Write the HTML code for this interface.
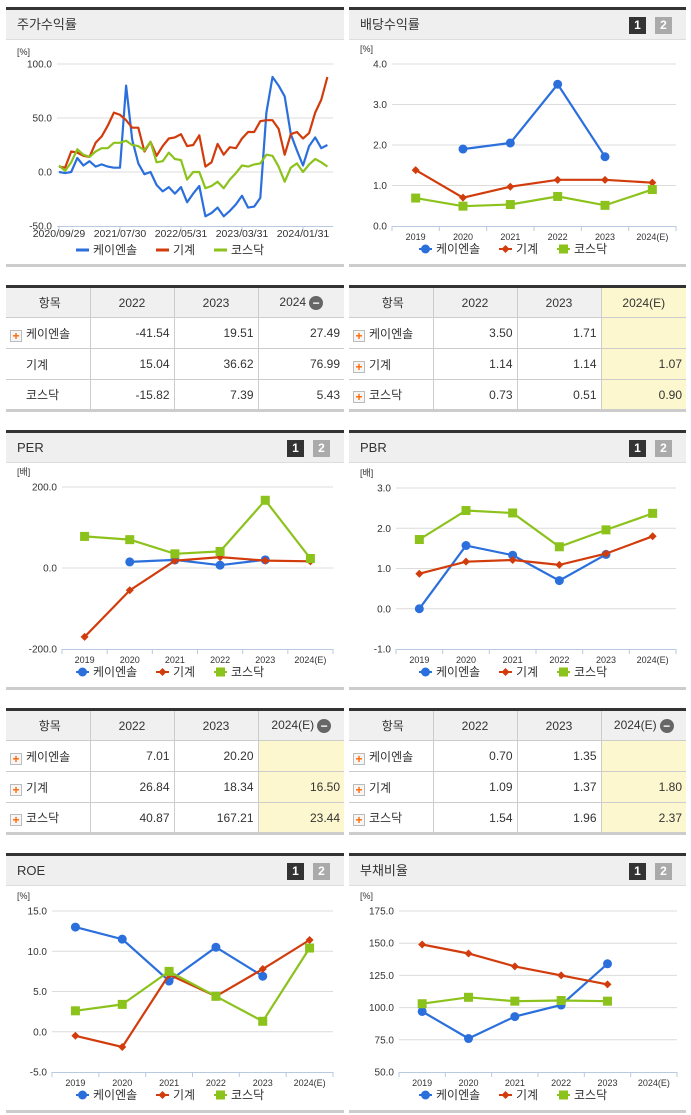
<!DOCTYPE html>
<html><head><meta charset="utf-8">
<style>
*{box-sizing:border-box;margin:0;padding:0}
body{width:691px;height:1115px;background:#fff;position:relative;overflow:hidden;font-family:"Liberation Sans","Noto Sans CJK KR",sans-serif;color:#333}
.panel{position:absolute;border-top:3px solid #333;border-bottom:3px solid #ccc}
.hdr{height:30px;background:#efefef;border-bottom:1px solid #ddd;font-size:13px;line-height:30px;padding-left:11px;color:#333;position:relative}
.b{position:absolute;top:7px;width:17px;height:17px;font-size:12px;font-weight:bold;line-height:17px;text-align:center;color:#fff}
.b1{right:40px;background:#333}.b2{right:14px;background:#aaa}
table{position:absolute;border-collapse:collapse;border-top:3px solid #333;border-bottom:3px solid #ccc;font-size:12px;table-layout:fixed}
th{background:#f0f0f0;font-weight:normal;height:31px;border:1px solid #ccc;border-top:none;text-align:center;vertical-align:middle}
td{height:31px;border:1px solid #ccc;text-align:right;padding-right:4px}
th:first-child,td:first-child{border-left:none;text-align:left;padding-left:4px}
th:first-child{text-align:center}
th:last-child,td:last-child{border-right:none}
.y{background:#fdf7cf}
.pl{display:inline-block;width:12px;height:12px;border:1px solid #bbb;background:#f6f6f6;color:#f60;font-size:12px;line-height:10px;text-align:center;font-weight:bold;vertical-align:-2px;margin-right:4px}
.mi{display:inline-block;width:14px;height:14px;border-radius:7px;background:#666;color:#fff;line-height:14px;font-size:12px;font-weight:bold;vertical-align:middle;margin-left:3px;text-align:center}
svg{position:absolute;left:0;top:0}
</style></head><body>

<div class="panel" style="left:6px;top:7px;width:338px;height:260px"><div class="hdr">주가수익률</div></div>
<div class="panel" style="left:349px;top:7px;width:337px;height:260px"><div class="hdr">배당수익률<span class="b b1">1</span><span class="b b2">2</span></div></div>
<div class="panel" style="left:6px;top:430px;width:338px;height:260px"><div class="hdr">PER<span class="b b1">1</span><span class="b b2">2</span></div></div>
<div class="panel" style="left:349px;top:430px;width:337px;height:260px"><div class="hdr">PBR<span class="b b1">1</span><span class="b b2">2</span></div></div>
<div class="panel" style="left:6px;top:853px;width:338px;height:260px"><div class="hdr">ROE<span class="b b1">1</span><span class="b b2">2</span></div></div>
<div class="panel" style="left:349px;top:853px;width:337px;height:260px"><div class="hdr">부채비율<span class="b b1">1</span><span class="b b2">2</span></div></div>

<table style="left:6px;top:285px;width:338px">
<colgroup><col style="width:84px"><col style="width:84px"><col style="width:84px"><col></colgroup>
<tr><th>항목</th><th>2022</th><th>2023</th><th>2024<span class="mi">−</span></th></tr>
<tr><td><span class="pl">+</span>케이엔솔</td><td>-41.54</td><td>19.51</td><td>27.49</td></tr>
<tr><td style="padding-left:20px">기계</td><td>15.04</td><td>36.62</td><td>76.99</td></tr>
<tr><td style="padding-left:20px">코스닥</td><td>-15.82</td><td>7.39</td><td>5.43</td></tr>
</table>
<table style="left:349px;top:285px;width:337px">
<colgroup><col style="width:84px"><col style="width:84px"><col style="width:84px"><col></colgroup>
<tr><th>항목</th><th>2022</th><th>2023</th><th class="y">2024(E)</th></tr>
<tr><td><span class="pl">+</span>케이엔솔</td><td>3.50</td><td>1.71</td><td class="y"></td></tr>
<tr><td><span class="pl">+</span>기계</td><td>1.14</td><td>1.14</td><td class="y">1.07</td></tr>
<tr><td><span class="pl">+</span>코스닥</td><td>0.73</td><td>0.51</td><td class="y">0.90</td></tr>
</table>
<table style="left:6px;top:708px;width:338px">
<colgroup><col style="width:84px"><col style="width:84px"><col style="width:84px"><col></colgroup>
<tr><th>항목</th><th>2022</th><th>2023</th><th>2024(E)<span class="mi">−</span></th></tr>
<tr><td><span class="pl">+</span>케이엔솔</td><td>7.01</td><td>20.20</td><td class="y"></td></tr>
<tr><td><span class="pl">+</span>기계</td><td>26.84</td><td>18.34</td><td class="y">16.50</td></tr>
<tr><td><span class="pl">+</span>코스닥</td><td>40.87</td><td>167.21</td><td class="y">23.44</td></tr>
</table>
<table style="left:349px;top:708px;width:337px">
<colgroup><col style="width:84px"><col style="width:84px"><col style="width:84px"><col></colgroup>
<tr><th>항목</th><th>2022</th><th>2023</th><th>2024(E)<span class="mi">−</span></th></tr>
<tr><td><span class="pl">+</span>케이엔솔</td><td>0.70</td><td>1.35</td><td class="y"></td></tr>
<tr><td><span class="pl">+</span>기계</td><td>1.09</td><td>1.37</td><td class="y">1.80</td></tr>
<tr><td><span class="pl">+</span>코스닥</td><td>1.54</td><td>1.96</td><td class="y">2.37</td></tr>
</table>

<svg id="chart" width="691" height="1115" font-family="Liberation Sans, Noto Sans CJK KR, sans-serif"></svg>

<script>
// stock return chart data
const stockTickLabels = ["2020/09/29","2021/07/30","2022/05/31","2023/03/31","2024/01/31"];
const stockBlue = [0,-1,0,13,6,10,5,7,5,4,4,80,30,8,-2,0,-12,-18,-14,-20,-14,-28,-20,-13,-41,-38,-33,-41,-36,-30,-22,-33,-32,-24,55,88,80,70,35,20,6,24,32,22,25];
const stockRed = [5,4,19,18,15,14,27,33,43,55,53,48,41,41,19,28,15,24,31,32,35,24,25,34,5,9,26,16,23,22,31,37,37,47,48,48,40,16,35,37,31,36,55,67,88];
const stockGreen = [6,1,9,21,16,14,19,22,22,27,27,29,25,24,20,28,9,10,18,12,11,-7,0,0,-15,-13,-9,-15,-7,-1,6,5,7,8,16,15,5,-9,4,8,0,7,12,9,5];
const stockTicks = [100,50,0,-50];

// category charts
const years = ["2019","2020","2021","2022","2023","2024(E)"];
const divBlue = [null,1.9,2.05,3.5,1.71,null];
const divRed = [1.38,0.7,0.97,1.14,1.14,1.07];
const divGreen = [0.69,0.49,0.53,0.73,0.51,0.90];
const divTicks = [4,3,2,1,0];
const perBlue = [null,15,20,7.01,20.2,null];
const perRed = [-170,-55,18,26.84,18.34,16.5];
const perGreen = [78,70,35,40.87,167.21,23.44];
const perTicks = [200,0,-200];
const pbrBlue = [0,1.57,1.33,0.70,1.35,null];
const pbrRed = [0.87,1.17,1.21,1.09,1.37,1.80];
const pbrGreen = [1.72,2.44,2.38,1.54,1.96,2.37];
const pbrTicks = [3,2,1,0,-1];
const roeBlue = [13,11.5,6.3,10.5,6.9,null];
const roeRed = [-0.5,-1.9,7.1,4.4,7.8,11.4];
const roeGreen = [2.6,3.4,7.5,4.4,1.3,10.4];
const roeTicks = [15,10,5,0,-5];
const debtBlue = [97,76,93,102,134,null];
const debtRed = [149,142,132,125,118,null];
const debtGreen = [103,108,105,105.5,105,null];
const debtTicks = [175,150,125,100,75,50];
const seriesNames = ["케이엔솔","기계","코스닥"];

const BLUE="#2b6fdc",RED="#d23c0c",GREEN="#8cc21c";
const svg=document.getElementById('chart');
const NS="http://www.w3.org/2000/svg";
function mk(tag,attrs,parent){const e=document.createElementNS(NS,tag);for(const k in attrs)e.setAttribute(k,attrs[k]);(parent||svg).appendChild(e);return e;}
function txt(s,x,y,size,anchor,parent,fill){const t=mk('text',{x:x,y:y,'font-size':size,'text-anchor':anchor,fill:fill||'#333'},parent);t.textContent=s;return t;}

function axes(g,L,R,T,B,ticks,fmt,unitX,unitY,unit){
  const ys=v=>T+(ticks[0]-v)/(ticks[0]-ticks[ticks.length-1])*(B-T);
  ticks.forEach(v=>{
    if(v!==ticks[ticks.length-1]){const gl=mk('line',{x1:L,x2:R,y1:ys(v),y2:ys(v),stroke:'#dcdcdc'},g);
    
    }
    const tl=txt(fmt(v),L-5,ys(v)+3.5,10,'end',g);
    
    
  });
  const u=txt(unit,unitX,unitY,9,'start',g);
  
  
  const ax=mk('line',{x1:L,x2:R,y1:B+0.5,y2:B+0.5,stroke:'#b9c9e2'},g);
  
  
  return ys;
}
function marker(g,type,x,y,col){
  let m;
  if(type==0)m=mk('circle',{cx:x,cy:y,r:4.5,fill:col},g);
  else if(type==1)m=mk('path',{d:`M${x} ${y-4}L${x+4} ${y}L${x} ${y+4}L${x-4} ${y}Z`,fill:col},g);
  else m=mk('rect',{x:x-4.5,y:y-4.5,width:9,height:9,fill:col},g);
  
  
}
function legend(g,cx,y,markers){
  const w=[62,40,50];const total=[0,1,2].reduce((a,i)=>a+18+w[i],0)-8;let x=cx-total/2;
  const cols=[BLUE,RED,GREEN];
  for(let i=0;i<3;i++){
    const ln=mk('line',{x1:x,x2:x+13,y1:y-4,y2:y-4,stroke:cols[i],'stroke-width':markers?2:3},g);
    
    
    if(markers)marker(g,i,x+6.5,y-4,cols[i]);
    const t=txt(seriesNames[i],x+17,y,12,'start',g,'#333');
    
    
    x+=18+w[i];
  }
}
function catChart(name,L,R,T,B,ticks,fmt,series,panelX,unit){
  const g=mk('g',{});
  
  
  const ys=axes(g,L,R,T,B,ticks,fmt,panelX+11,T-12,unit);
  const cw=(R-L)/years.length;
  const xs=i=>L+cw*(i+0.5);
  for(let i=0;i<=years.length;i++){mk('line',{x1:L+cw*i,x2:L+cw*i,y1:B,y2:B+5,stroke:'#b9c9e2'},g);}
  years.forEach((y,i)=>{const t=txt(y,xs(i),B+14,9,'middle',g);
    
    });
  const cols=[BLUE,RED,GREEN];
  series.forEach((s,si)=>{
    let d='',pen=false;
    s.forEach((v,i)=>{if(v==null){pen=false;return;}d+=(pen?'L':'M')+xs(i).toFixed(1)+' '+ys(v).toFixed(1);pen=true;});
    const p=mk('path',{d:d,fill:'none',stroke:cols[si],'stroke-width':2.2},g);
    
    
    s.forEach((v,i)=>{if(v!=null)marker(g,si,xs(i),ys(v),cols[si]);});
  });
  legend(g,(panelX+panelX+338)/2,B+27,true);
}

// Stock return chart
(function(){
  const g=mk('g',{});
  
  
  const L=57,R=333,T=64,B=226;
  const ys=axes(g,L,R,T,B,stockTicks,v=>v.toFixed(1),17,55,'[%]');
  const step=6.1,x0=59;
  const xs=i=>x0+i*step;
  stockTickLabels.forEach((s,k)=>{const x=xs(k*10);
    mk('line',{x1:x,x2:x,y1:B,y2:B+5,stroke:'#b9c9e2'},g);
    const t=txt(s,x,B+11,10.5,'middle',g);
    
    });
  [[stockBlue,BLUE],[stockRed,RED],[stockGreen,GREEN]].forEach(([s,c],si)=>{
    const d=s.map((v,i)=>(i?'L':'M')+xs(i).toFixed(1)+' '+ys(v).toFixed(1)).join('');
    const p=mk('path',{d:d,fill:'none',stroke:c,'stroke-width':2.2,'stroke-linejoin':'round'},g);
    
    
  });
  legend(g,175,254,false);
})();

catChart('dividend-chart',392,676,64,226,divTicks,v=>v.toFixed(1),[divBlue,divRed,divGreen],349,'[%]');
catChart('per-chart',62,333,487,649,perTicks,v=>v.toFixed(1),[perBlue,perRed,perGreen],6,'[배]');
catChart('pbr-chart',396,676,488,649,pbrTicks,v=>v.toFixed(1),[pbrBlue,pbrRed,pbrGreen],349,'[배]');
catChart('roe-chart',52,333,911,1072,roeTicks,v=>v.toFixed(1),[roeBlue,roeRed,roeGreen],6,'[%]');
catChart('debt-ratio-chart',399,677,911,1072,debtTicks,v=>v.toFixed(1),[debtBlue,debtRed,debtGreen],349,'[%]');
</script>
</body></html>
